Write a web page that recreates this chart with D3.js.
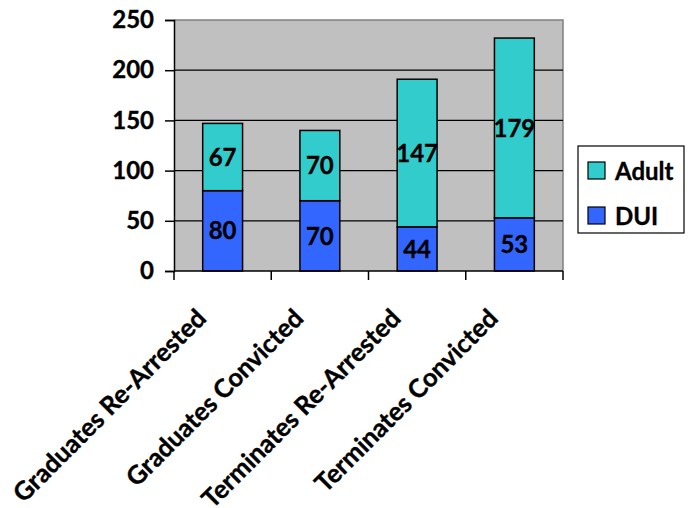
<!DOCTYPE html>
<html>
<head>
<meta charset="utf-8">
<script src="https://cdn.jsdelivr.net/npm/d3@7"></script>
<style>
  html, body { margin: 0; padding: 0; background: #fff; }
  svg text { font-family: Lato, "Open Sans", sans-serif; font-weight: 700; fill: #000; stroke: #000; stroke-width: 0.35px; }
</style>
</head>
<body>
<svg id="chart" width="693" height="508"></svg>
<script>
// Categories and stacked series (DUI at the bottom, Adult on top)
const categories = ["Graduates Re-Arrested", "Graduates Convicted", "Terminates Re-Arrested", "Terminates Convicted"];
const duiValues = [80, 70, 44, 53];
const adultValues = [67, 70, 147, 179];
const yTicks = [0, 50, 100, 150, 200, 250];
const seriesNames = ["Adult", "DUI"];
const seriesColors = { DUI: "#3366FF", Adult: "#33CCCC" };

const svg = d3.select("#chart");
const plot = { left: 174, right: 563, top: 20, bottom: 271 };

const x = d3.scaleBand()
  .domain(categories)
  .range([plot.left, plot.right])
  .paddingInner(0.59)
  .paddingOuter(0.295);

const y = d3.scaleLinear().domain([0, 250]).range([plot.bottom, plot.top]);

// Plot background
svg.append("rect")
  .attr("x", plot.left).attr("y", plot.top)
  .attr("width", plot.right - plot.left).attr("height", plot.bottom - plot.top)
  .attr("fill", "#C0C0C0");

// Gray frame on top and right
svg.append("path")
  .attr("d", `M${plot.left},${plot.top}H${plot.right}V${plot.bottom}`)
  .attr("fill", "none").attr("stroke", "#808080").attr("stroke-width", 1.5);

// Horizontal gridlines
svg.append("g").selectAll("line")
  .data(yTicks.filter(t => t > 0 && t < 250))
  .join("line")
  .attr("x1", plot.left).attr("x2", plot.right)
  .attr("y1", d => y(d)).attr("y2", d => y(d))
  .attr("stroke", "#000").attr("stroke-width", 1.3);

// Stacked data
const rows = categories.map((c, i) => ({ category: c, DUI: duiValues[i], Adult: adultValues[i] }));
const stack = d3.stack().keys(["DUI", "Adult"])(rows);

const barGroups = svg.append("g").selectAll("g")
  .data(stack)
  .join("g")
  .attr("fill", d => seriesColors[d.key]);

barGroups.selectAll("rect")
  .data(d => d)
  .join("rect")
  .attr("x", d => x(d.data.category))
  .attr("width", x.bandwidth())
  .attr("y", d => y(d[1]))
  .attr("height", d => y(d[0]) - y(d[1]))
  .attr("stroke", "#000")
  .attr("stroke-width", 1.5);

// Value labels centred in each segment
barGroups.selectAll("text")
  .data(d => d.map(p => ({ p, key: d.key })))
  .join("text")
  .attr("x", d => x(d.p.data.category) + x.bandwidth() / 2)
  .attr("y", d => (y(d.p[0]) + y(d.p[1])) / 2)
  .attr("dy", "0.36em")
  .attr("text-anchor", "middle")
  .attr("font-size", 24)
  .text(d => d.p.data[d.key]);

// Y axis
const yAxis = svg.append("g")
  .attr("transform", `translate(${plot.left},0)`)
  .call(d3.axisLeft(y).tickValues(yTicks).tickSize(9).tickPadding(11));
yAxis.select(".domain").attr("stroke", "#000").attr("stroke-width", 1.5);
yAxis.selectAll(".tick line").attr("stroke", "#000").attr("stroke-width", 1.5);
yAxis.selectAll(".tick text").attr("font-size", 24).attr("font-family", null);

// X axis: baseline with ticks on category boundaries
const xAxisG = svg.append("g");
xAxisG.append("line")
  .attr("x1", plot.left).attr("x2", plot.right)
  .attr("y1", plot.bottom).attr("y2", plot.bottom)
  .attr("stroke", "#000").attr("stroke-width", 1.5);
const boundaries = categories.map(c => x(c) - x.step() * x.paddingInner() / 2);
boundaries[0] = plot.left;
boundaries.push(plot.right);
xAxisG.selectAll("line.tick")
  .data(boundaries)
  .join("line")
  .attr("class", "tick")
  .attr("x1", d => d).attr("x2", d => d)
  .attr("y1", plot.bottom).attr("y2", plot.bottom + 9)
  .attr("stroke", "#000").attr("stroke-width", 1.5);

// Rotated category labels
xAxisG.selectAll("text")
  .data(categories)
  .join("text")
  .attr("transform", d => `translate(${x(d) + x.bandwidth() / 2 - 15},320) rotate(-45)`)
  .attr("text-anchor", "end")
  .attr("font-size", 25.5)
  .text(d => d);

// Legend
const legend = svg.append("g");
legend.append("rect")
  .attr("x", 578).attr("y", 146).attr("width", 106).attr("height", 87)
  .attr("fill", "#fff").attr("stroke", "#000").attr("stroke-width", 1.2);
const items = legend.selectAll("g.item")
  .data(seriesNames)
  .join("g")
  .attr("class", "item")
  .attr("transform", (d, i) => `translate(588,${162 + i * 45})`);
items.append("rect")
  .attr("width", 17).attr("height", 17)
  .attr("fill", d => seriesColors[d])
  .attr("stroke", "#000").attr("stroke-width", 1.2);
items.append("text")
  .attr("x", 27).attr("y", 18)
  .attr("font-size", 24)
  .text(d => d);
</script>
</body>
</html>
